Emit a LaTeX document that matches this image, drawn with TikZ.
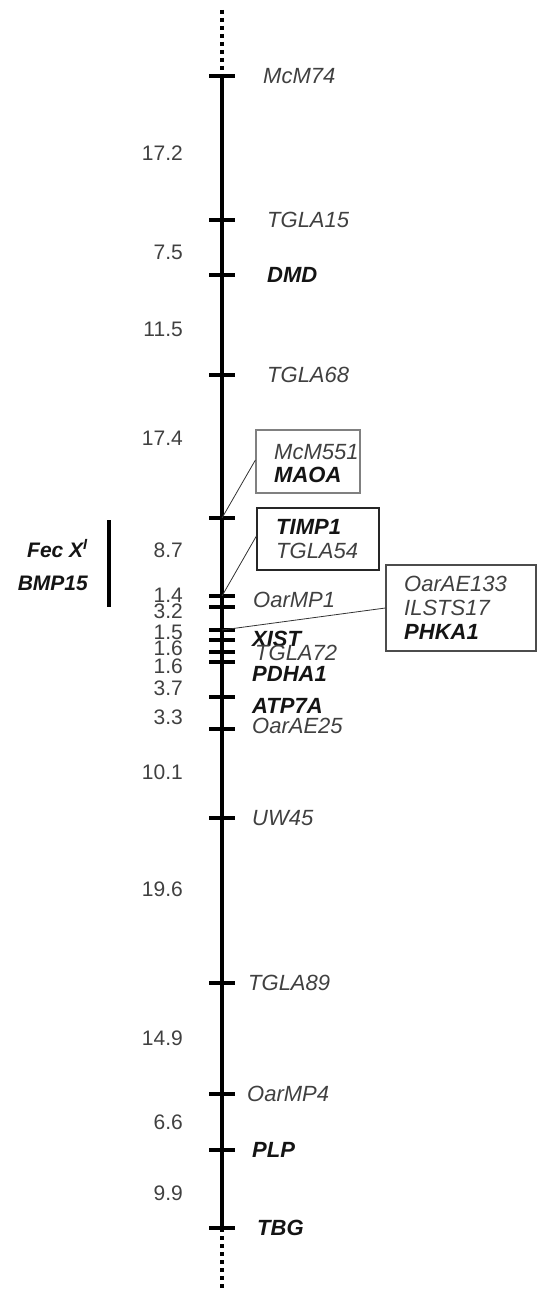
\documentclass[tikz,border=0pt]{standalone}
\usepackage{fontspec}
\setmainfont{Liberation Sans}
\begin{document}
\begin{tikzpicture}[x=1pt,y=-1pt,
  axisline/.style={line width=4pt},
  endline/.style={line width=4pt,dash pattern=on 4pt off 4pt},
  tickline/.style={line width=3.5pt},
  leader/.style={line width=0.8pt,draw=black!80},
  mk/.style={inner sep=0pt,anchor=west,font=\fontsize{22}{24}\selectfont\itshape,text=black!75,text height=15pt,text depth=0pt},
  gene/.style={mk,font=\fontsize{22}{24}\selectfont\bfseries\itshape,text=black!92},
  dist/.style={inner sep=0pt,anchor=east,font=\fontsize{21}{24}\selectfont,text=black!75,text height=15pt,text depth=0pt},
  qtl/.style={inner sep=0pt,anchor=east,font=\fontsize{21}{24}\selectfont\bfseries\itshape,text=black!92,text height=15pt,text depth=0pt},
  boxa/.style={draw=black!50,line width=1.2pt,inner sep=0pt},
  boxb/.style={draw=black!85,line width=1.2pt,inner sep=0pt},
  boxc/.style={draw=black!70,line width=1.2pt,inner sep=0pt}]
\useasboundingbox (0,0) rectangle (539,1289);
% axis coordinates
\coordinate (top) at (222,10);
\coordinate (bot) at (222,1289);
\foreach \n/\y in {t1/76,t2/220,t3/275,t4/375,t5/518,t6/596,t7/607,t8/630,t9/640,t10/652,t11/662,t12/697,t13/729,t14/818,t15/983,t16/1094,t17/1150,t18/1228}
  {\coordinate (\n) at (222,\y);}
\draw[endline] (top) -- (t1);
\draw[axisline] (t1) -- (t18);
\draw[endline] (t18) -- (bot);
\foreach \n in {t1,t2,t3,t4,t5,t6,t7,t8,t9,t10,t11,t12,t13,t14,t15,t16,t17,t18}
  {\draw[tickline] ([xshift=-13pt]\n) -- ([xshift=13pt]\n);}
% marker labels
\node[mk] (mcm74) at (263,76) {McM74};
\node[mk] (tgla15) at (267,220) {TGLA15};
\node[gene] (dmd) at (267,275) {DMD};
\node[mk] (tgla68) at (267,375) {TGLA68};
\node[mk] (oarmp1) at (253,600) {OarMP1};
\node[gene] (xist) at (252,639) {XIST};
\node[mk] (tgla72) at (255,653) {TGLA72};
\node[gene] (pdha1) at (252,674) {PDHA1};
\node[gene] (atp7a) at (252,706) {ATP7A};
\node[mk] (oarae25) at (252,726) {OarAE25};
\node[mk] (uw45) at (252,818) {UW45};
\node[mk] (tgla89) at (248,983) {TGLA89};
\node[mk] (oarmp4) at (247,1094) {OarMP4};
\node[gene] (plp) at (252,1150) {PLP};
\node[gene] (tbg) at (257,1228) {TBG};
% boxes
\node[boxa,minimum width=104pt,minimum height=63pt] (b1) at (308,461.5) {};
\node[mk] (mcm551) at (274,452) {McM551};
\node[gene] (maoa) at (274,475) {MAOA};
\node[boxb,minimum width=122pt,minimum height=62pt] (b2) at (318,539) {};
\node[gene] (timp1) at (276,527) {TIMP1};
\node[mk] (tgla54) at (276,551) {TGLA54};
\node[boxc,minimum width=150pt,minimum height=86pt] (b3) at (461,608) {};
\node[mk] (oarae133) at (404,584) {OarAE133};
\node[mk] (ilsts17) at (404,608) {ILSTS17};
\node[gene] (phka1) at (404,632) {PHKA1};
\draw[leader] ([yshift=1.5pt]b1.west) -- (t5);
\draw[leader] ([yshift=3pt]b2.west) -- (t6);
\draw[leader] (b3.west) -- (t8);
% distances
\foreach \d/\y in {17.2/153,7.5/252,11.5/329,17.4/438,8.7/550,1.4/595,3.2/611,1.5/632,1.6/648,1.6/666,3.7/688,3.3/717,10.1/772,19.6/889,14.9/1038,6.6/1122,9.9/1193}
  {\node[dist] at (183,\y) {\d};}
% QTL bar
\coordinate (qa) at (109,520);
\coordinate (qb) at (109,607);
\draw[line width=4pt] (qa) -- (qb);
\node[qtl] (fec) at (88,550) {Fec X\textsuperscript{I}};
\node[qtl] (bmp) at (88,583) {BMP15};
\end{tikzpicture}
\end{document}
